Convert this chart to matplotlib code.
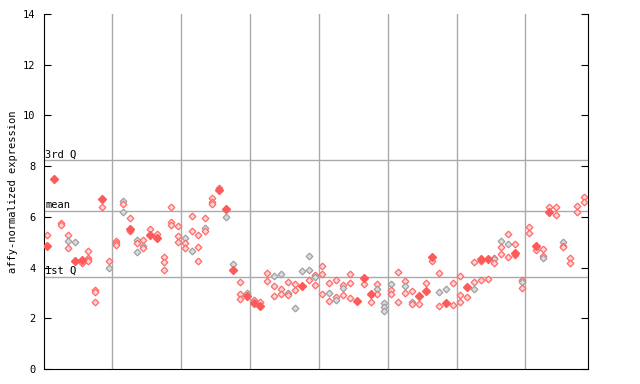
import matplotlib
matplotlib.use('Agg')
from matplotlib import pyplot as plot

# one entry per sample column: list of (value, kind) with kind r=red, f=filled red, g=grey
samples = [
    [(5.27, 'r'), (4.85, 'f')],
    [(7.50, 'f')],
    [(5.74, 'r'), (5.66, 'r')],
    [(5.27, 'r'), (5.05, 'g'), (4.76, 'r')],
    [(5.01, 'g'), (4.27, 'f')],
    [(4.28, 'f'), (4.20, 'r')],
    [(4.65, 'r'), (4.39, 'r'), (4.30, 'r'), (4.26, 'r')],
    [(3.11, 'r'), (3.03, 'r'), (2.63, 'r')],
    [(6.72, 'f'), (6.40, 'r')],
    [(4.27, 'r'), (3.97, 'g')],
    [(5.05, 'r'), (4.98, 'r'), (4.90, 'r')],
    [(6.62, 'g'), (6.52, 'r'), (6.19, 'g')],
    [(5.94, 'r'), (5.54, 'f'), (5.45, 'r')],
    [(5.09, 'g'), (4.96, 'r'), (4.61, 'g')],
    [(5.09, 'r'), (4.85, 'g'), (4.76, 'r')],
    [(5.51, 'r'), (5.28, 'f')],
    [(5.34, 'r'), (5.18, 'f')],
    [(4.43, 'r'), (4.21, 'r'), (3.89, 'r')],
    [(6.37, 'r'), (5.81, 'r'), (5.66, 'r')],
    [(5.62, 'r'), (5.23, 'r'), (5.01, 'r')],
    [(5.15, 'g'), (4.96, 'r'), (4.76, 'r')],
    [(6.02, 'r'), (5.43, 'r'), (4.64, 'g')],
    [(5.27, 'r'), (4.80, 'r'), (4.25, 'r')],
    [(5.94, 'r'), (5.55, 'g'), (5.45, 'r')],
    [(6.74, 'r'), (6.60, 'r'), (6.50, 'r')],
    [(7.12, 'r'), (7.06, 'f')],
    [(6.31, 'f'), (5.98, 'g')],
    [(4.14, 'g'), (3.90, 'f')],
    [(3.42, 'r'), (2.94, 'r'), (2.75, 'r')],
    [(2.98, 'g'), (2.88, 'f')],
    [(2.71, 'r'), (2.60, 'f')],
    [(2.64, 'r'), (2.50, 'f')],
    [(3.77, 'r'), (3.46, 'r')],
    [(3.65, 'g'), (3.26, 'r'), (2.87, 'r')],
    [(3.75, 'g'), (3.14, 'r'), (2.94, 'r')],
    [(3.42, 'r'), (2.98, 'g'), (2.90, 'r')],
    [(3.34, 'r'), (3.10, 'r'), (2.39, 'g')],
    [(3.85, 'g'), (3.29, 'f')],
    [(4.44, 'g'), (3.89, 'g'), (3.50, 'r')],
    [(3.69, 'r'), (3.61, 'g'), (3.30, 'r')],
    [(4.05, 'r'), (3.73, 'r'), (2.94, 'r')],
    [(3.38, 'r'), (2.98, 'g'), (2.67, 'r')],
    [(3.50, 'r'), (2.83, 'r'), (2.71, 'g')],
    [(3.30, 'r'), (3.18, 'g'), (2.91, 'r')],
    [(3.75, 'r'), (3.38, 'r'), (2.79, 'r')],
    [(2.68, 'f')],
    [(3.58, 'f'), (3.34, 'r')],
    [(2.94, 'f'), (2.63, 'r')],
    [(3.34, 'r'), (3.14, 'g'), (2.94, 'r')],
    [(2.59, 'g'), (2.43, 'g'), (2.27, 'g')],
    [(3.34, 'g'), (3.10, 'r'), (2.94, 'r')],
    [(3.81, 'r'), (2.63, 'r')],
    [(3.46, 'r'), (3.26, 'g'), (2.98, 'r')],
    [(3.06, 'r'), (2.63, 'g'), (2.55, 'r')],
    [(2.87, 'f'), (2.55, 'r')],
    [(3.38, 'r'), (3.06, 'f')],
    [(4.43, 'f'), (4.25, 'r')],
    [(3.77, 'r'), (3.02, 'g'), (2.47, 'r')],
    [(3.14, 'g'), (2.62, 'f')],
    [(3.38, 'r'), (2.51, 'r')],
    [(3.65, 'r'), (2.91, 'r'), (2.63, 'r')],
    [(3.25, 'f'), (2.83, 'r')],
    [(4.21, 'r'), (3.42, 'r'), (3.14, 'g')],
    [(4.32, 'f'), (4.27, 'r'), (3.50, 'r')],
    [(4.33, 'f'), (3.54, 'r')],
    [(4.38, 'r'), (4.33, 'g'), (4.18, 'r')],
    [(5.05, 'g'), (4.82, 'r'), (4.52, 'r')],
    [(5.31, 'r'), (4.93, 'g'), (4.40, 'r')],
    [(4.93, 'r'), (4.59, 'f'), (4.50, 'r')],
    [(3.51, 'r'), (3.45, 'g'), (3.18, 'r')],
    [(5.59, 'r'), (5.35, 'r')],
    [(4.86, 'f'), (4.70, 'r')],
    [(4.73, 'r'), (4.45, 'r'), (4.38, 'g')],
    [(6.37, 'r'), (6.20, 'f')],
    [(6.37, 'r'), (6.06, 'r')],
    [(5.00, 'g'), (4.85, 'r'), (4.80, 'r')],
    [(4.36, 'r'), (4.18, 'r')],
    [(6.44, 'r'), (6.20, 'r')],
    [(6.80, 'r'), (6.60, 'r')],
]

quartiles = [(3.63, '1st Q'), (6.23, 'mean'), (8.24, '3rd Q')]
groupSize = 10

RED = '#ff5a5a'
mono = 'DejaVu Sans Mono'

fig = plot.figure(figsize=(6.4, 3.84), dpi=100)
ax = fig.add_axes([44/640, 15/384, 544/640, 355/384])

# quartile / mean lines with labels
for val, label in quartiles:
    ax.axhline(val, color='#aaaaaa', lw=1, zorder=1)
    ax.text(0.002, val + 0.03, label, transform=ax.get_yaxis_transform(),
            ha='left', va='bottom', fontsize=7.5, family=mono, color='#000000')

# group separators
nCols = len(samples)
for g in range(groupSize, nCols, groupSize):
    ax.axvline(g - 0.5, color='#aaaaaa', lw=1, zorder=1)

for i, col in enumerate(samples):
    for val, kind in col:
        if kind == 'f':
            ax.plot(i, val, marker='D', ms=4.2, color=RED, mec=RED, zorder=3)
        elif kind == 'g':
            ax.plot(i, val, marker='D', ms=3.4, mfc='#dcdcdc', mec='#a0a0a0', mew=0.9, zorder=2)
        else:
            ax.plot(i, val, marker='D', ms=3.4, mfc='#ffd6d6', mec='#ff6a6a', mew=0.9, zorder=2)

ax.set_xlim(-0.45, nCols - 0.4)
ax.set_ylim(0, 14)
ax.set_yticks(range(0, 15, 2))
ax.set_xticks([])
ax.tick_params(axis='y', direction='in', length=5, right=True, labelsize=7.5, pad=6)
for lab in ax.get_yticklabels():
    lab.set_family(mono)
ax.spines['top'].set_visible(False)
ax.set_ylabel('affy-normalized expression', family=mono, fontsize=7.5, labelpad=4)

fig.savefig('out.png', dpi=100)
